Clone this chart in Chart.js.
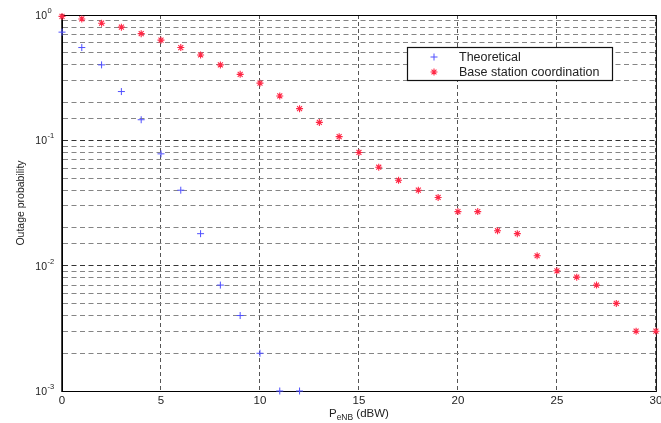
<!DOCTYPE html>
<html>
<head>
<meta charset="utf-8">
<script src="https://cdn.jsdelivr.net/npm/chart.js@4.4.1/dist/chart.umd.min.js"></script>
<style>
  body { margin: 0; background: #fff; }
  #chart-container { width: 661px; height: 423px; }
</style>
</head>
<body>
<div id="chart-container"><canvas id="myChart" width="661" height="423"></canvas></div>
<script>
// P_eNB (dBW) for each series
const powerTheory = [0, 1, 2, 3, 4, 5, 6, 7, 8, 9, 10, 11, 12];
const powerCoord = [0, 1, 2, 3, 4, 5, 6, 7, 8, 9, 10, 11, 12, 13, 14, 15,
  16, 17, 18, 19, 20, 21, 22, 23, 24, 25, 26, 27, 28, 29, 30];

// outage probability
const outageTheory = [0.73, 0.55, 0.40, 0.245, 0.146, 0.078, 0.040, 0.018,
  0.0070, 0.0040, 0.0020, 0.0010, 0.0010];
const outageCoord = [0.975, 0.93, 0.86, 0.80, 0.71, 0.63, 0.55, 0.48, 0.40,
  0.336, 0.286, 0.226, 0.179, 0.139, 0.107, 0.080, 0.061, 0.048, 0.040, 0.035,
  0.027, 0.027, 0.019, 0.018, 0.012, 0.0091, 0.0081, 0.0070, 0.0050, 0.0030, 0.0030];

// decade labels on the y axis
const yDecades = [1, 0.1, 0.01, 0.001];

const seriesNames = ["Theoretical", "Base station coordination"];
const FONT = "'Liberation Sans', Arial, sans-serif";

function toPoints(xs, ys) {
  return xs.map((x, i) => ({ x: x, y: ys[i] }));
}

// draws the box, the 10^n labels, the x title and the legend
const matlabLook = {
  id: "matlabLook",
  beforeDatasetsDraw(chart) {
    const ctx = chart.ctx;
    const a = chart.chartArea;
    ctx.save();
    ctx.strokeStyle = "#000";
    ctx.lineWidth = 1;
    ctx.strokeRect(a.left + 0.5, a.top + 0.5, a.right - a.left, a.bottom - a.top);
    ctx.restore();
  },
  afterDraw(chart) {
    const ctx = chart.ctx;
    const yScale = chart.scales.y;
    const xScale = chart.scales.x;
    ctx.save();
    ctx.fillStyle = "#222";

    // y tick labels 10^n
    yDecades.forEach((d) => {
      const y = yScale.getPixelForValue(d);
      const exp = Math.round(Math.log10(d));
      ctx.font = "10.5px " + FONT;
      ctx.textAlign = "right";
      ctx.textBaseline = "middle";
      ctx.fillText("10", 47, y + 1);
      ctx.font = "7.5px " + FONT;
      ctx.textAlign = "left";
      ctx.fillText(String(exp), 47.5, y - 4);
    });

    // x axis title P_eNB (dBW)
    const cx = (xScale.left + xScale.right) / 2;
    const base = 417;
    ctx.textBaseline = "alphabetic";
    ctx.textAlign = "left";
    ctx.font = "11.5px " + FONT;
    const wP = ctx.measureText("P").width;
    const wTail = ctx.measureText(" (dBW)").width;
    ctx.font = "8.5px " + FONT;
    const wSub = ctx.measureText("eNB").width;
    let x = cx - (wP + wSub + wTail) / 2;
    ctx.font = "11.5px " + FONT;
    ctx.fillText("P", x, base);
    x += wP;
    ctx.font = "8.5px " + FONT;
    ctx.fillText("eNB", x, base + 3);
    x += wSub;
    ctx.font = "11.5px " + FONT;
    ctx.fillText(" (dBW)", x, base);

    // legend box
    ctx.fillStyle = "#fff";
    ctx.fillRect(407, 47, 205, 33);
    ctx.strokeStyle = "#111";
    ctx.lineWidth = 1.2;
    ctx.strokeRect(407.5, 47.5, 205, 33);
    ctx.font = "12.5px " + FONT;
    ctx.textBaseline = "middle";
    ctx.fillStyle = "#222";
    chart.data.datasets.forEach((ds, i) => {
      const ly = 57 + i * 15;
      const mx = 434;
      ctx.strokeStyle = ds.borderColor;
      ctx.lineWidth = ds.pointBorderWidth;
      const r = ds.pointRadius;
      ctx.beginPath();
      ctx.moveTo(mx - r, ly); ctx.lineTo(mx + r, ly);
      ctx.moveTo(mx, ly - r); ctx.lineTo(mx, ly + r);
      if (ds.pointStyle === "star") {
        const q = r * 0.7;
        ctx.moveTo(mx - q, ly - q); ctx.lineTo(mx + q, ly + q);
        ctx.moveTo(mx - q, ly + q); ctx.lineTo(mx + q, ly - q);
      }
      ctx.stroke();
      ctx.fillText(seriesNames[i], 459, ly + 0.5);
    });
    ctx.restore();
  }
};

const ctx = document.getElementById("myChart").getContext("2d");

const chart = new Chart(ctx, {
  type: "scatter",
  data: {
    datasets: [
      {
        label: seriesNames[0],
        data: toPoints(powerTheory, outageTheory),
        pointStyle: "cross",
        pointRadius: 3.5,
        pointBorderWidth: 1,
        borderColor: "rgb(80, 80, 255)",
        backgroundColor: "rgb(80, 80, 255)",
        clip: false,
      },
      {
        label: seriesNames[1],
        data: toPoints(powerCoord, outageCoord),
        pointStyle: "star",
        pointRadius: 3.5,
        pointBorderWidth: 1.1,
        borderColor: "rgb(255, 40, 70)",
        backgroundColor: "rgb(255, 40, 70)",
        clip: false,
      },
    ],
  },
  options: {
    responsive: false,
    animation: false,
    layout: { padding: { left: 0, top: 15, right: 1, bottom: 0 } },
    plugins: {
      legend: { display: false },
      tooltip: { enabled: false },
    },
    scales: {
      x: {
        type: "linear",
        position: "bottom",
        min: 0,
        max: 30,
        ticks: {
          stepSize: 5,
          color: "#222",
          padding: 3,
          font: { family: FONT, size: 11.5 },
          maxRotation: 0,
        },
        grid: {
          drawTicks: false,
          color: "#555",
          lineWidth: 1,
        },
        border: { display: true, color: "#000", width: 1, dash: [4, 3] },
        afterFit: (s) => {
          s.height = 32;
          s.paddingLeft = 0;
          s.paddingRight = 0;
        },
      },
      y: {
        type: "logarithmic",
        min: 0.001,
        max: 1,
        ticks: { display: false, autoSkip: false },
        grid: {
          drawTicks: false,
          color: (c) => {
            const v = c.tick ? c.tick.value : 0;
            const m = Math.log10(v);
            return Math.abs(m - Math.round(m)) < 1e-6 ? "#333" : "#858585";
          },
          lineWidth: 1,
        },
        border: { display: true, color: "#444", width: 2, dash: [5, 3.5] },
        title: {
          display: true,
          text: "Outage probability",
          color: "#222",
          font: { family: FONT, size: 10.5 },
          padding: { top: 14.5, bottom: 0 },
        },
        afterFit: (s) => {
          s.width = 62;
        },
      },
    },
  },
  plugins: [matlabLook],
});
</script>
</body>
</html>
